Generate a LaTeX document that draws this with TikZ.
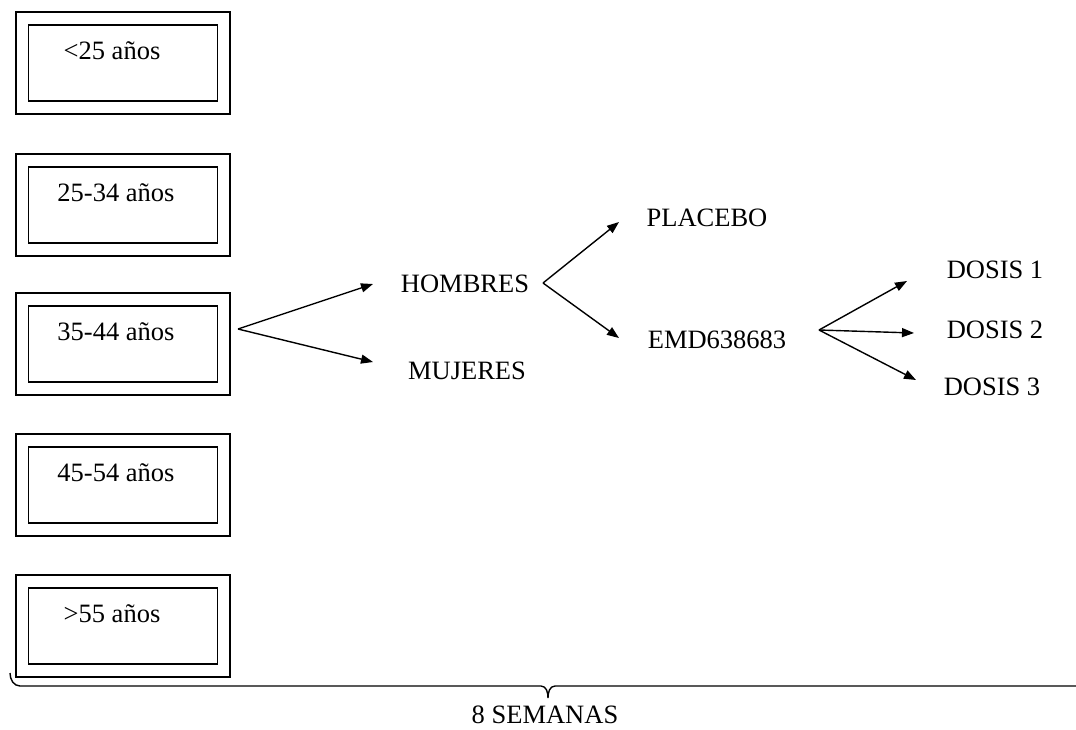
\documentclass[tikz,border=0pt]{standalone}
\usepackage{fontspec}
\setmainfont{Liberation Serif}
\usetikzlibrary{arrows.meta}
\begin{document}
\begin{tikzpicture}[x=1pt,y=-1pt,
  lbl/.style={inner sep=0pt, font=\fontsize{26.5}{30}\selectfont},
  outerbox/.style={draw, line width=1.5pt, minimum width=214pt, minimum height=102pt, inner sep=0pt},
  innerbox/.style={draw, line width=1.5pt, minimum width=189pt, minimum height=76pt, inner sep=0pt},
  arr/.style={line width=1.4pt, -{Triangle[length=12pt,width=9pt]}}]
\useasboundingbox (0,0) rectangle (1076,729);

% age groups: double-framed boxes
\foreach \i/\top/\txt/\tx in {1/12/{<25 años}/112, 2/154/{25-34 años}/116, 3/293/{35-44 años}/116, 4/434/{45-54 años}/116, 5/575/{>55 años}/112}{
  \node[outerbox] (o\i) at (123,\top+51) {};
  \node[innerbox] (n\i) at (123,\top+51) {};
  \node[lbl] (t\i) at (\tx,\top+39) {\txt};
}

% groups and treatments
\node[lbl] (hombres) at (465,284) {HOMBRES};
\node[lbl] (mujeres) at (467,371) {MUJERES};
\node[lbl] (placebo) at (707,218) {PLACEBO};
\node[lbl] (emd) at (717,340) {EMD638683};
\node[lbl] (d1) at (995,270) {DOSIS 1};
\node[lbl] (d2) at (995,330) {DOSIS 2};
\node[lbl] (d3) at (992,387) {DOSIS 3};

% fork points and arrow tips
\coordinate (f1) at (238,329);
\coordinate (f2) at (543,283);
\coordinate (f3) at (819,330);
\coordinate (h) at (373,284);
\coordinate (m) at (373,362);
\coordinate (p) at (619,222);
\coordinate (e) at (619,338);
\coordinate (a1) at (907,281);
\coordinate (a2) at (914,333);
\coordinate (a3) at (916,380);

\draw[arr] (f1) -- (h);
\draw[arr] (f1) -- (m);
\draw[arr] (f2) -- (p);
\draw[arr] (f2) -- (e);
\draw[arr] (f3) -- (a1);
\draw[arr] (f3) -- (a2);
\draw[arr] (f3) -- (a3);

% time brace
\coordinate (bl) at (10,673);
\coordinate (bm) at (548,698);
\coordinate (br) at (1076,686);
\draw[line width=1.4pt] (bl) to[out=-90,in=180] (20,686) -- (541,686) to[out=0,in=90] (bm)
  to[out=90,in=180] (555,686) -- (br);
\node[lbl] (sem) at (545,715) {8 SEMANAS};
\end{tikzpicture}
\end{document}
